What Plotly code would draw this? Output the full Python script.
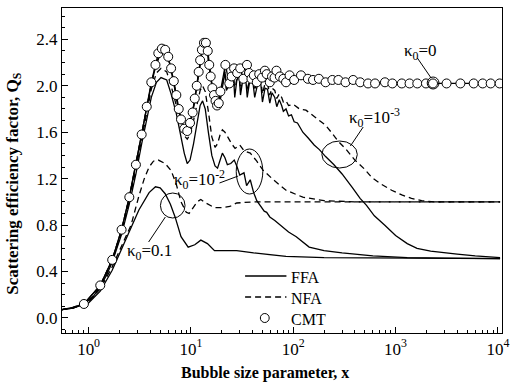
import plotly.graph_objects as go

# ---------------- data ----------------
# CMT, kappa0 = 0 (open circles)
cmt_x = [0.9, 1.3, 1.7, 2.1, 2.5, 2.9, 3.3, 3.7, 4.1, 4.5, 4.8, 5.2, 5.6, 6.0, 6.4, 6.8, 7.2, 7.6, 8.0,
         8.6, 9.2, 9.8, 10.4, 10.9, 11.4, 11.9, 12.3, 12.8, 13.4, 14.0, 14.6, 15.1, 15.6, 16.2, 16.8,
         17.4, 18.0, 18.7, 19.4, 21.7, 23.7, 25.0, 26.4, 28.3, 30.3, 32.5, 35.3, 37, 39, 41.2, 44, 46.5,
         49.5, 52.8, 55, 59, 62, 65.6, 68.5, 74, 80, 85, 92, 102, 119, 139, 156, 178, 207, 241, 276,
         324, 385, 451, 538, 630, 787, 930, 1150, 1370, 1630, 1980, 2320, 3150, 4300, 5800, 7100,
         8500, 10400]
cmt_y = [0.12, 0.28, 0.50, 0.76, 1.04, 1.32, 1.58, 1.82, 2.03, 2.18, 2.28, 2.32, 2.31, 2.25, 2.15, 2.04,
         1.92, 1.80, 1.71, 1.63, 1.61, 1.68, 1.77, 1.89, 2.00, 2.12, 2.22, 2.31, 2.37, 2.37, 2.30, 2.18,
         2.08, 1.98, 1.92, 1.87, 1.83, 1.85, 1.95, 2.18, 2.02, 2.08, 2.15, 2.11, 2.15, 2.06, 2.18, 2.11,
         2.06, 2.09, 2.03, 2.10, 2.07, 2.13, 2.10, 2.03, 2.08, 2.07, 2.13, 2.08, 2.06, 2.03, 2.09, 2.05,
         2.09, 2.06, 2.05, 2.06, 2.03, 2.05, 2.05, 2.03, 2.05, 2.03, 2.02, 2.02, 2.03, 2.02, 2.02, 2.02,
         2.02, 2.02, 2.02, 2.02, 2.02, 2.02, 2.02, 2.02, 2.02]

# kappa0 = 1e-3
k3_ffa_x = [0.54, 0.7, 0.9, 1.3, 1.7, 2.1, 2.5, 2.9, 3.3, 3.7, 4.1, 4.5, 4.9, 5.3, 5.7, 6.2, 6.8, 7.6, 8.4,
            9.2, 10.0, 10.9, 11.9, 12.8, 13.6, 14.4, 15.3, 16.3, 17.4, 18.4, 19.4, 20.5, 21.5, 22.2, 23.5,
            24.8, 26.0, 26.8, 28.0, 29.5, 30.5, 32, 34, 35.5, 37.5, 40, 42, 45, 48, 50, 53, 56, 59, 62,
            66, 69, 73, 77, 80, 85, 90, 96, 102, 110, 124, 140, 160, 180, 207, 250, 300, 380, 450, 520,
            620, 780, 1000, 1300, 1620, 2200, 3000, 4000, 6000, 10500]
k3_ffa_y = [0.07, 0.09, 0.12, 0.28, 0.50, 0.76, 1.04, 1.32, 1.58, 1.81, 2.01, 2.16, 2.25, 2.29, 2.28, 2.19,
            2.02, 1.78, 1.64, 1.60, 1.70, 1.87, 2.10, 2.28, 2.34, 2.30, 2.12, 1.96, 1.85, 1.81, 1.88, 2.02,
            2.12, 1.96, 2.00, 2.06, 2.10, 1.90, 2.04, 2.10, 1.92, 2.04, 2.10, 1.90, 2.04, 2.06, 1.90, 2.02,
            2.03, 1.86, 1.98, 1.97, 1.85, 1.94, 1.90, 1.82, 1.88, 1.83, 1.78, 1.80, 1.74, 1.75, 1.69, 1.68,
            1.60, 1.55, 1.49, 1.45, 1.39, 1.32, 1.24, 1.12, 1.03, 0.97, 0.88, 0.80, 0.71, 0.64, 0.60, 0.575,
            0.56, 0.55, 0.535, 0.52]
k3_nfa_x = [0.54, 0.7, 0.9, 1.3, 1.7, 2.1, 2.5, 2.9, 3.3, 3.7, 4.1, 4.5, 4.9, 5.3, 5.7, 6.2, 6.8, 7.6, 8.4,
            9.2, 10.0, 10.9, 11.9, 12.8, 13.6, 14.4, 15.3, 16.3, 17.4, 18.4, 19.4, 20.5, 21.5, 22.2, 23.5,
            24.8, 26.0, 26.8, 28, 29.5, 30.5, 32, 34, 35.5, 37.5, 40, 42, 45, 48, 50, 53, 56, 59, 62, 66,
            69, 73, 77, 80, 85, 90, 100, 115, 133, 170, 207, 240, 270, 330, 400, 500, 585, 700, 915, 1150,
            1430, 1800, 2400, 10500]
k3_nfa_y = [0.07, 0.09, 0.12, 0.28, 0.50, 0.76, 1.04, 1.32, 1.58, 1.81, 2.01, 2.17, 2.26, 2.30, 2.29, 2.20,
            2.03, 1.79, 1.65, 1.61, 1.71, 1.88, 2.11, 2.29, 2.35, 2.31, 2.13, 1.97, 1.86, 1.83, 1.90, 2.04,
            2.14, 1.98, 2.03, 2.08, 2.12, 1.94, 2.06, 2.11, 1.96, 2.06, 2.11, 1.95, 2.06, 2.08, 1.96, 2.05,
            2.06, 1.93, 2.02, 2.02, 1.92, 1.98, 1.96, 1.89, 1.93, 1.90, 1.86, 1.87, 1.83, 1.84, 1.80, 1.79,
            1.72, 1.66, 1.59, 1.53, 1.45, 1.36, 1.28, 1.21, 1.16, 1.10, 1.06, 1.03, 1.01, 1.0, 1.0]

# kappa0 = 1e-2
k2_ffa_x = [0.54, 0.7, 0.9, 1.1, 1.3, 1.5, 1.7, 2.1, 2.5, 2.9, 3.3, 3.7, 4.1, 4.6, 5.1, 5.8, 6.4, 7.2, 8.0,
            8.6, 9.2, 9.8, 10.6, 11.5, 12.3, 13.0, 13.8, 14.8, 16.0, 17.2, 18.2, 19.3, 20.3, 21.5, 22.7,
            24.5, 26.5, 28.3, 30, 33, 35, 38, 41, 44, 47, 52, 55, 59, 66, 72, 80, 90, 107, 125, 143, 200,
            300, 600, 1300, 3000, 10500]
k2_ffa_y = [0.07, 0.085, 0.12, 0.18, 0.27, 0.37, 0.48, 0.72, 0.98, 1.24, 1.50, 1.70, 1.90, 2.03, 2.07,
            2.05, 1.93, 1.76, 1.57, 1.42, 1.33, 1.36, 1.50, 1.70, 1.83, 1.87, 1.80, 1.60, 1.40, 1.31, 1.29,
            1.36, 1.42, 1.38, 1.32, 1.33, 1.36, 1.30, 1.23, 1.25, 1.14, 1.19, 1.08, 1.01, 0.97, 0.92, 0.91,
            0.87, 0.84, 0.81, 0.78, 0.74, 0.70, 0.65, 0.61, 0.58, 0.56, 0.535, 0.52, 0.515, 0.51]
k2_nfa_x = [0.54, 0.7, 0.9, 1.1, 1.3, 1.5, 1.7, 2.1, 2.5, 2.9, 3.3, 3.7, 4.1, 4.6, 5.1, 5.8, 6.4, 7.2, 8.0,
            8.6, 9.2, 9.8, 10.6, 11.5, 12.3, 13.0, 13.8, 14.8, 16.0, 17.2, 18.2, 19.3, 20.3, 21.5, 23, 25,
            27, 30, 33, 38, 44, 51, 64, 85, 124, 200, 400, 10500]
k2_nfa_y = [0.07, 0.085, 0.12, 0.18, 0.27, 0.38, 0.49, 0.74, 1.01, 1.28, 1.55, 1.78, 1.97, 2.11, 2.15,
            2.12, 2.00, 1.83, 1.66, 1.57, 1.54, 1.58, 1.70, 1.85, 1.96, 2.00, 1.95, 1.78, 1.56, 1.47, 1.50,
            1.58, 1.62, 1.60, 1.55, 1.50, 1.46, 1.49, 1.44, 1.42, 1.35, 1.27, 1.19, 1.10, 1.04, 1.01, 1.0,
            1.0]

# kappa0 = 0.1
k1_ffa_x = [0.54, 0.7, 1.0, 1.3, 1.7, 2.3, 3.1, 3.9, 4.5, 5.0, 5.6, 6.3, 7.0, 8.0, 9.4, 10.9, 12.5, 14.5,
            17, 22, 28, 41, 85, 200, 1000, 10500]
k1_ffa_y = [0.07, 0.085, 0.13, 0.23, 0.41, 0.67, 0.93, 1.08, 1.13, 1.12, 1.07, 0.98, 0.87, 0.70, 0.61,
            0.63, 0.67, 0.64, 0.58, 0.58, 0.58, 0.56, 0.53, 0.52, 0.515, 0.51]
k1_nfa_x = [0.54, 0.7, 1.0, 1.3, 1.7, 2.1, 2.6, 3.1, 3.5, 3.9, 4.3, 4.8, 5.6, 6.4, 7.2, 8.0, 9.0, 9.6, 10.5,
            11.5, 12.5, 14.0, 17, 20, 24, 28, 41, 10500]
k1_nfa_y = [0.07, 0.085, 0.14, 0.25, 0.44, 0.62, 0.80, 1.05, 1.20, 1.30, 1.35, 1.36, 1.33, 1.27, 1.15,
            1.00, 0.91, 0.90, 0.95, 1.00, 1.02, 0.99, 0.95, 0.95, 0.96, 0.99, 1.0, 1.0]

x_tick_vals = [1, 10, 100, 1000, 10000]
x_tick_text = ["10<sup>0</sup>", "10<sup>1</sup>", "10<sup>2</sup>", "10<sup>3</sup>", "10<sup>4</sup>"]

legend_names = ["FFA", "NFA", "CMT"]

# ---------------- figure ----------------
FONT = "Liberation Serif, Times New Roman, serif"
W, H = 514, 388
ML, MR, MT, MB = 62, 5, 8, 55
PW, PH = W - ML - MR, H - MT - MB

solid = dict(color="black", width=1.3)
dashed = dict(color="black", width=1.3, dash="6px,4px")
circle_marker = dict(symbol="circle", size=9, color="white", line=dict(color="black", width=1))

fig = go.Figure()
for xs, ys, ln, nm in [(k1_ffa_x, k1_ffa_y, solid, "FFA"), (k1_nfa_x, k1_nfa_y, dashed, "NFA"),
                       (k2_ffa_x, k2_ffa_y, solid, "FFA"), (k2_nfa_x, k2_nfa_y, dashed, "NFA"),
                       (k3_ffa_x, k3_ffa_y, solid, "FFA"), (k3_nfa_x, k3_nfa_y, dashed, "NFA")]:
    fig.add_trace(go.Scatter(x=xs, y=ys, mode="lines", line=ln, name=nm, showlegend=False))

# kappa0 = 0 curve with CMT circles
fig.add_trace(go.Scatter(x=cmt_x, y=cmt_y, mode="lines", line=solid, name="FFA", showlegend=False))
fig.add_trace(go.Scatter(x=cmt_x, y=cmt_y, mode="markers", name="CMT", showlegend=False,
                         marker=circle_marker))


def px(xp):
    return (xp - ML) / PW


def py(yp):
    return (H - MB - yp) / PH


shapes = []
# ellipses around the curve groups (pixel positions converted to paper fractions)
for x0, y0, x1, y1 in [(433, 77, 445, 89), (326, 141, 362, 168), (239, 149, 266, 194), (162, 193, 187, 218)]:
    shapes.append(dict(type="circle", xref="paper", yref="paper", x0=px(x0), x1=px(x1),
                       y0=py(y1), y1=py(y0), line=dict(color="black", width=1)))
for x0, y0, x1, y1 in [(423, 58, 437, 78), (368, 127, 355, 146), (222, 183, 241, 176), (150, 242, 167, 217)]:
    shapes.append(dict(type="line", xref="paper", yref="paper", x0=px(x0), x1=px(x1),
                       y0=py(y0), y1=py(y1), line=dict(color="black", width=1)))

# legend (drawn in the lower right of the plot area)
LEG_Y = [276, 297, 318]
shapes.append(dict(type="line", xref="paper", yref="paper", x0=px(248), x1=px(290),
                   y0=py(LEG_Y[0]), y1=py(LEG_Y[0]), line=solid))
shapes.append(dict(type="line", xref="paper", yref="paper", x0=px(248), x1=px(290),
                   y0=py(LEG_Y[1]), y1=py(LEG_Y[1]), line=dashed))
shapes.append(dict(type="circle", xref="paper", yref="paper", x0=px(263.5), x1=px(272.5),
                   y0=py(LEG_Y[2] + 4.5), y1=py(LEG_Y[2] - 4.5), fillcolor="white",
                   line=dict(color="black", width=1)))

annotations = []
for name, yl in zip(legend_names, LEG_Y):
    annotations.append(dict(text=name, x=px(293), y=py(yl + 1), xref="paper", yref="paper",
                            showarrow=False, xanchor="left", yanchor="middle",
                            font=dict(family=FONT, size=16, color="black")))
for txt, xc, yc in [("κ<sub>0</sub>=0", 426, 52), ("κ<sub>0</sub>=10<sup>-3</sup>", 379, 117),
                    ("κ<sub>0</sub>=10<sup>-2</sup>", 202, 180), ("κ<sub>0</sub>=0.1", 151, 252)]:
    annotations.append(dict(text=txt, x=px(xc), y=py(yc), xref="paper", yref="paper",
                            showarrow=False, xanchor="center", yanchor="middle",
                            font=dict(family=FONT, size=17, color="black")))
annotations.append(dict(text="<b>Bubble size parameter, x</b>", x=px(268), y=py(373), xref="paper",
                        yref="paper", showarrow=False, xanchor="center", yanchor="middle",
                        font=dict(family=FONT, size=16, color="black")))
annotations.append(dict(text="<b>Scattering efficiency factor, Q<sub>S</sub></b>", x=px(13), y=py(183),
                        xref="paper", yref="paper", showarrow=False, textangle=-90,
                        xanchor="center", yanchor="middle",
                        font=dict(family=FONT, size=17, color="black")))

fig.update_layout(
    width=W, height=H, margin=dict(l=ML, r=MR, t=MT, b=MB),
    paper_bgcolor="white", plot_bgcolor="white", showlegend=False,
    font=dict(family=FONT, size=17, color="black"),
    shapes=shapes, annotations=annotations,
    xaxis=dict(type="log", range=[-0.26, 4.04], tickvals=x_tick_vals, ticktext=x_tick_text,
               ticks="inside", ticklen=6, tickwidth=1, tickcolor="black", ticklabeloverflow="allow",
               showline=True, linecolor="black", linewidth=1.3, mirror=True,
               showgrid=False, zeroline=False,
               minor=dict(ticks="inside", ticklen=3, tickcolor="black", dtick="D1", showgrid=False),
               tickfont=dict(family=FONT, size=17)),
    yaxis=dict(range=[-0.13, 2.67], tick0=0, dtick=0.4, tickformat=".1f",
               ticks="inside", ticklen=6, tickwidth=1, tickcolor="black",
               showline=True, linecolor="black", linewidth=1.3, mirror=True,
               showgrid=False, zeroline=False,
               minor=dict(ticks="inside", ticklen=3, tickcolor="black", dtick=0.1, showgrid=False),
               tickfont=dict(family=FONT, size=17)),
)

fig.write_html("out.html")
